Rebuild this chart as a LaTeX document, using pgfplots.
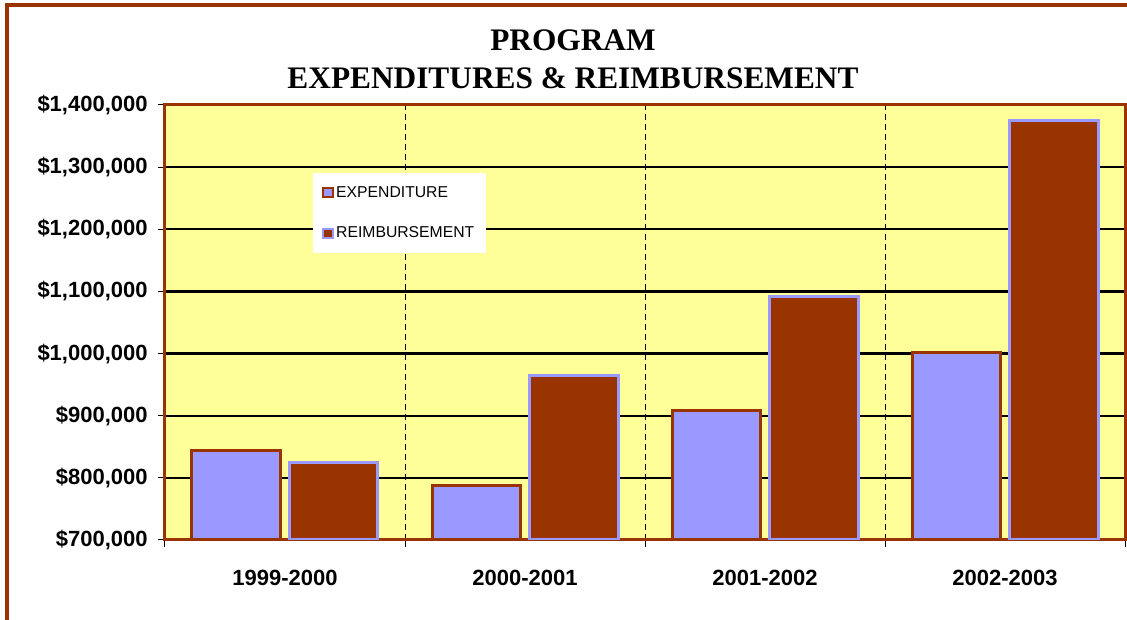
\documentclass[border=0pt]{standalone}
\usepackage{pgfplots}
\pgfplotsset{compat=1.18}
\usepackage{fontspec}
\setmainfont{Liberation Serif}
\newfontfamily\arial{Liberation Sans}
\definecolor{brn}{HTML}{993300}
\definecolor{lav}{HTML}{9999FF}
\definecolor{bgy}{HTML}{FFFF99}
\pgfplotsset{mylegend/.style={legend image code/.code={\draw[##1, line width=1.5pt] (2pt,-3.4pt) rectangle (8.8pt,3.4pt);}}}
\begin{document}
\begin{tikzpicture}
\useasboundingbox (-123.75pt,-60pt) rectangle (721.5pt,405pt);
\draw[brn, line width=3pt] (-118.5pt,-70pt) -- (-118.5pt,401.25pt) -- (730pt,401.25pt);
\begin{axis}[
  at={(0pt,0pt)}, anchor=south west,
  scale only axis, width=720pt, height=326.25pt,
  xmin=-0.5, xmax=3.5, ymin=700000, ymax=1400000,
  axis background/.style={fill=bgy},
  axis line style={brn, line width=2.25pt},
  tick align=outside, tick pos=left,
  xtick={0,1,2,3},
  xticklabels={1999-2000,2000-2001,2001-2002,2002-2003},
  major x tick style={draw=none},
  minor xtick={-0.5,0.5,1.5,2.5,3.5},
  minor x tick style={black, line width=0.75pt},
  minor tick length=5pt,
  xminorgrids,
  minor x grid style={black, line width=0.75pt, dash pattern=on 4.5pt off 3pt},
  ytick={700000,800000,900000,1000000,1100000,1200000,1300000,1400000},
  yticklabels={{\$700,000},{\$800,000},{\$900,000},{\$1,000,000},{\$1,100,000},{\$1,200,000},{\$1,300,000},{\$1,400,000}},
  scaled y ticks=false,
  major y tick style={black, line width=0.75pt},
  major tick length=5pt,
  ymajorgrids,
  major y grid style={black, line width=1.8pt},
  yticklabel style={font=\arial\bfseries\fontsize{16.5}{19}\selectfont, xshift=-4.5pt},
  xticklabel style={font=\arial\bfseries\fontsize{16.5}{19}\selectfont, yshift=-14pt},
  legend style={at={(0.154,0.844)}, anchor=north west, fill=white, draw=none,
    font=\arial\fontsize{11.8}{14}\selectfont, row sep=16.5pt,
    inner xsep=7pt, inner ysep=8pt},
  legend cell align=left,
]
\addplot[ybar, bar width=0.367, bar shift=-0.204, fill=lav, draw=brn, line width=2.25pt, mylegend]
  coordinates {(0,844000) (1,788000) (2,908000) (3,1001000)};
\addlegendentry{EXPENDITURE}
\addplot[ybar, bar width=0.367, bar shift=0.204, fill=brn, draw=lav, line width=2.25pt, mylegend]
  coordinates {(0,824000) (1,965000) (2,1092000) (3,1375000)};
\addlegendentry{REIMBURSEMENT}
\end{axis}
\node[align=center, font=\bfseries\fontsize{23.5}{28.5}\selectfont] at (306pt,360.75pt)
  {PROGRAM\\EXPENDITURES \& REIMBURSEMENT};
\end{tikzpicture}
\end{document}
